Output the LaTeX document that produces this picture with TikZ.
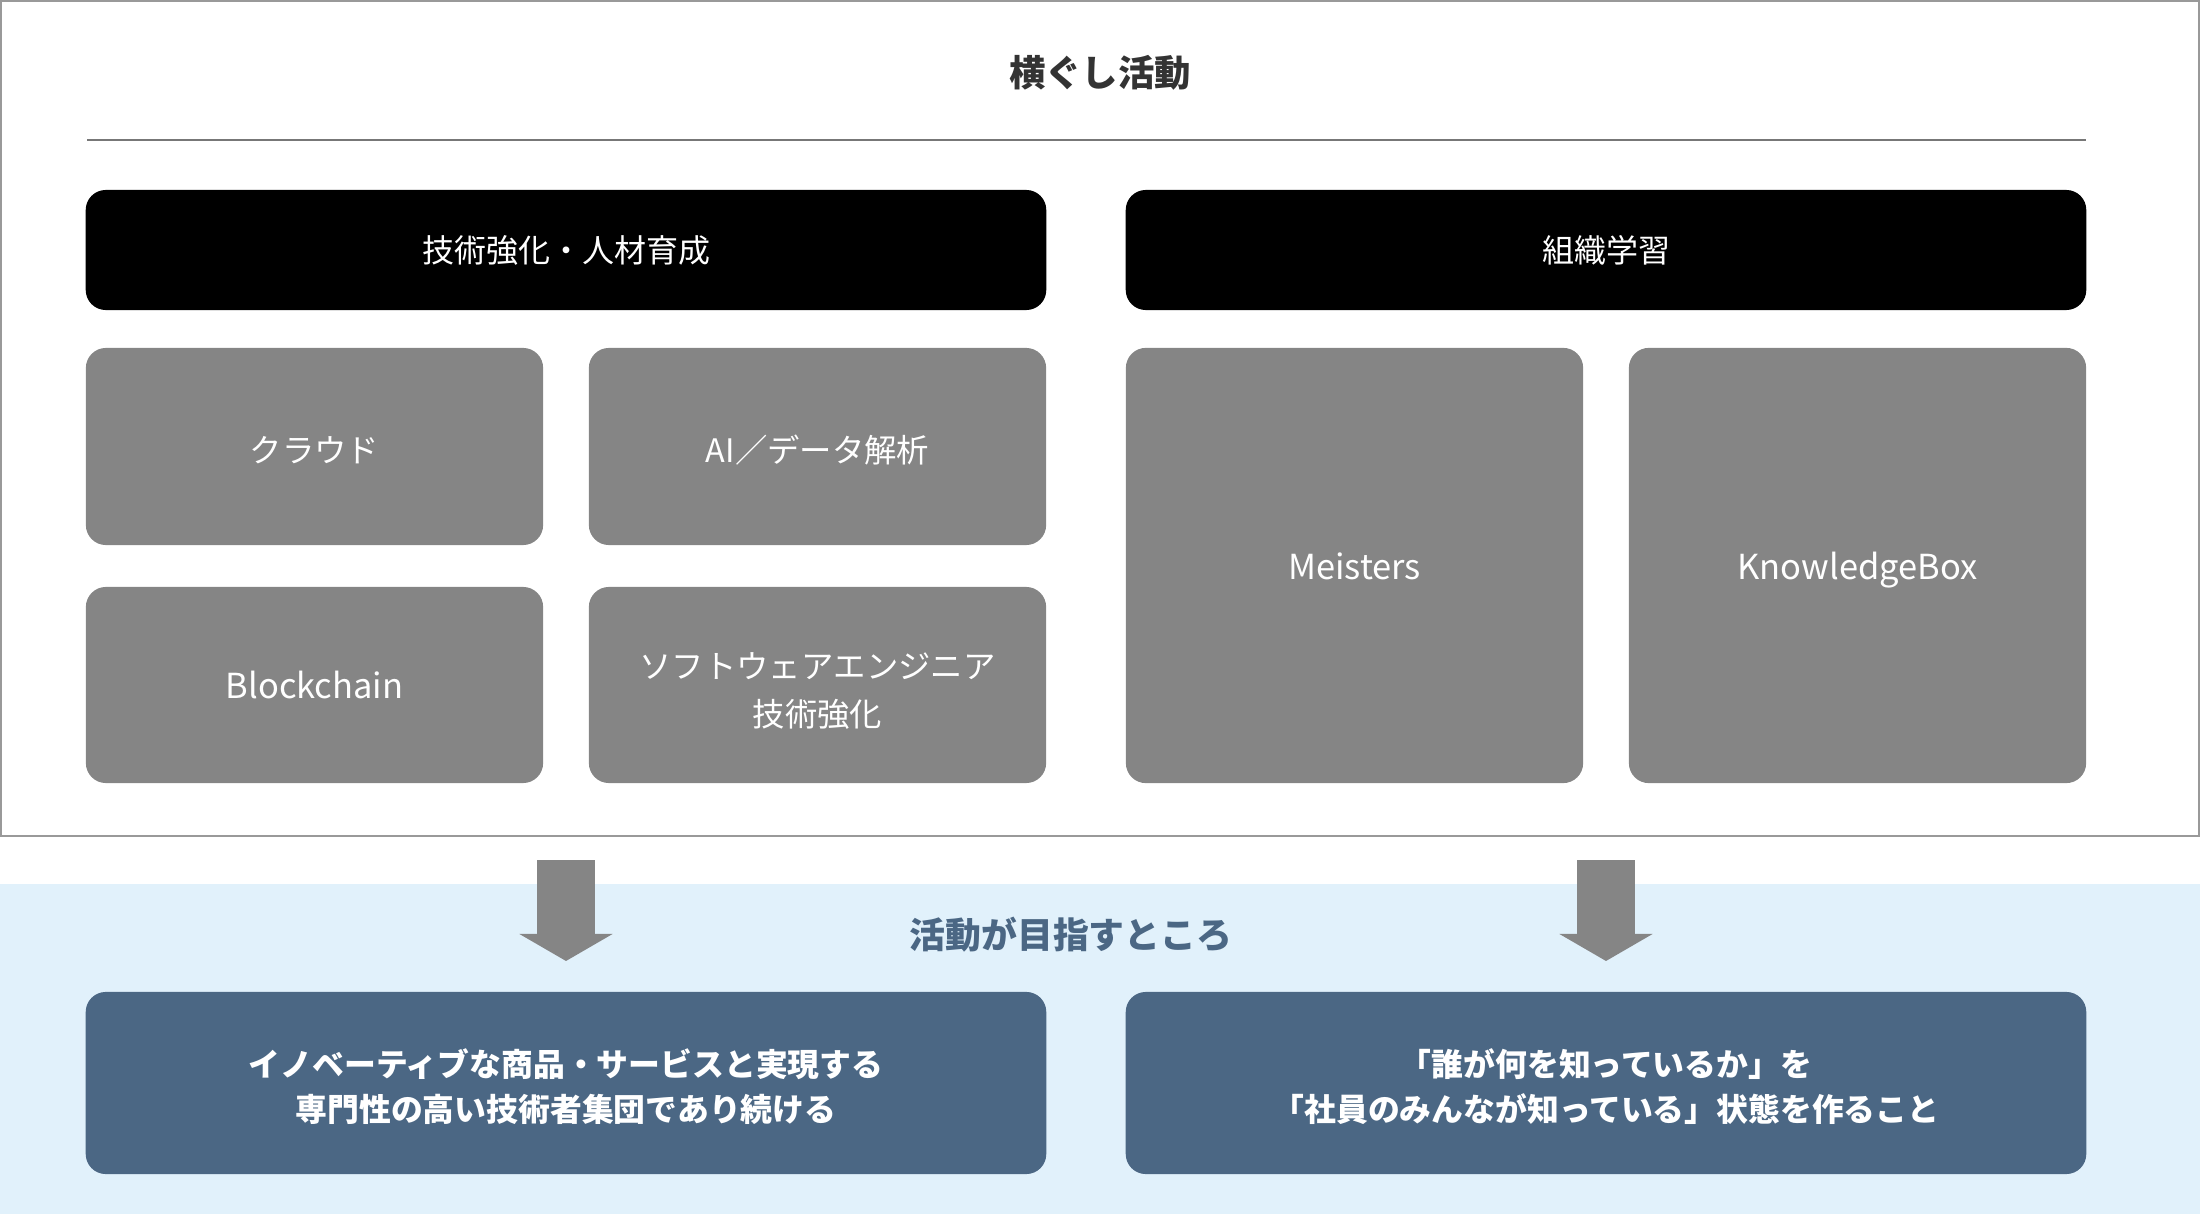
\documentclass[tikz,border=0pt]{standalone}
\usepackage{fontspec}
\setmainfont{Noto Sans CJK JP}
\usepackage{xcolor}
\usepackage{tikz}
\usetikzlibrary{arrows.meta, positioning, calc}

\definecolor{framegray}{HTML}{999999}
\definecolor{rulegray}{HTML}{777777}
\definecolor{itemgray}{HTML}{858585}
\definecolor{goalblue}{HTML}{4B6784}
\definecolor{bandblue}{HTML}{E1F1FB}
\definecolor{titlegray}{HTML}{333333}

\tikzset{
  grpbox/.style={fill=black, rounded corners=0.2cm, inner sep=0pt,
    minimum width=9.6cm, minimum height=1.2cm, text=white,
    text height=0.7em, text depth=0pt,
    font=\fontsize{9.1}{12}\selectfont},
  itembox/.style={fill=itemgray, rounded corners=0.2cm, inner sep=0pt,
    minimum width=4.57cm, text=white, align=center,
    font=\fontsize{9.2}{13.6}\selectfont},
  oneline/.style={text height=0.9em, text depth=0pt},
  latin/.style={text height=0.78em, text depth=0pt,
    font=\fontsize{9.8}{12}\selectfont},
  goalbox/.style={fill=goalblue, rounded corners=0.2cm, inner sep=0pt,
    minimum width=9.6cm, minimum height=1.82cm, text=white, align=center,
    font=\fontsize{9.05}{12.6}\selectfont\bfseries},
  downarrow/.style={draw=itemgray, line width=0.58cm,
    -{Triangle[length=0.27cm, width=0.92cm]}}
}

\begin{document}
\begin{tikzpicture}[x=0.01cm, y=-0.01cm]
  \useasboundingbox (0,0) rectangle (2200,1216);
  % background band and frame
  \fill[bandblue] (0,884) rectangle (2200,1214);
  \draw[framegray, line width=0.6pt] (1,1) rectangle (2199,836);
  % heading
  \node[font=\fontsize{10.35}{13}\selectfont\bfseries, text=titlegray] (title) at (1100,73) {横ぐし活動};
  \draw[rulegray, line width=0.8pt] (87,140) -- (2086,140);

  % two groups
  \node[grpbox] (tech) at (566,250) {技術強化・人材育成};
  \node[grpbox] (org) at (1606,250) {組織学習};

  % items of the first group
  \node[itembox, oneline, minimum height=1.97cm] (cloud) at (314.5,446.5) {クラウド};
  \node[itembox, oneline, minimum height=1.97cm] (ai) at (817.5,446.5) {AI／データ解析};
  \node[itembox, latin, minimum height=1.96cm] (chain) at (314.5,685) {Blockchain};
  \node[itembox, minimum height=1.96cm] (swe) at (817.5,685) {\rule{0pt}{11pt}ソフトウェアエンジニア\\技術強化};

  % items of the second group
  \node[itembox, latin, minimum height=4.35cm] (meist) at (1354.5,565.5) {Meisters};
  \node[itembox, latin, minimum height=4.35cm] (kbox) at (1857.5,565.5) {KnowledgeBox};

  % arrows down to the goals
  \coordinate (la) at (566,860);
  \coordinate (lb) at (566,961);
  \coordinate (ra) at (1606,860);
  \coordinate (rb) at (1606,961);
  \draw[downarrow] (la) -- (lb);
  \draw[downarrow] (ra) -- (rb);

  \node[font=\fontsize{10.2}{12}\selectfont\bfseries, text=goalblue] (aim) at (1071,935) {活動が目指すところ};

  % goals
  \node[goalbox] (goalL) at (566,1083) {\rule{0pt}{9.9pt}イノベーティブな商品・サービスと実現する\\専門性の高い技術者集団であり続ける};
  \node[goalbox] (goalR) at (1606,1083) {\rule{0pt}{9.9pt}「誰が何を知っているか」を\\「社員のみんなが知っている」状態を作ること};
\end{tikzpicture}
\end{document}
